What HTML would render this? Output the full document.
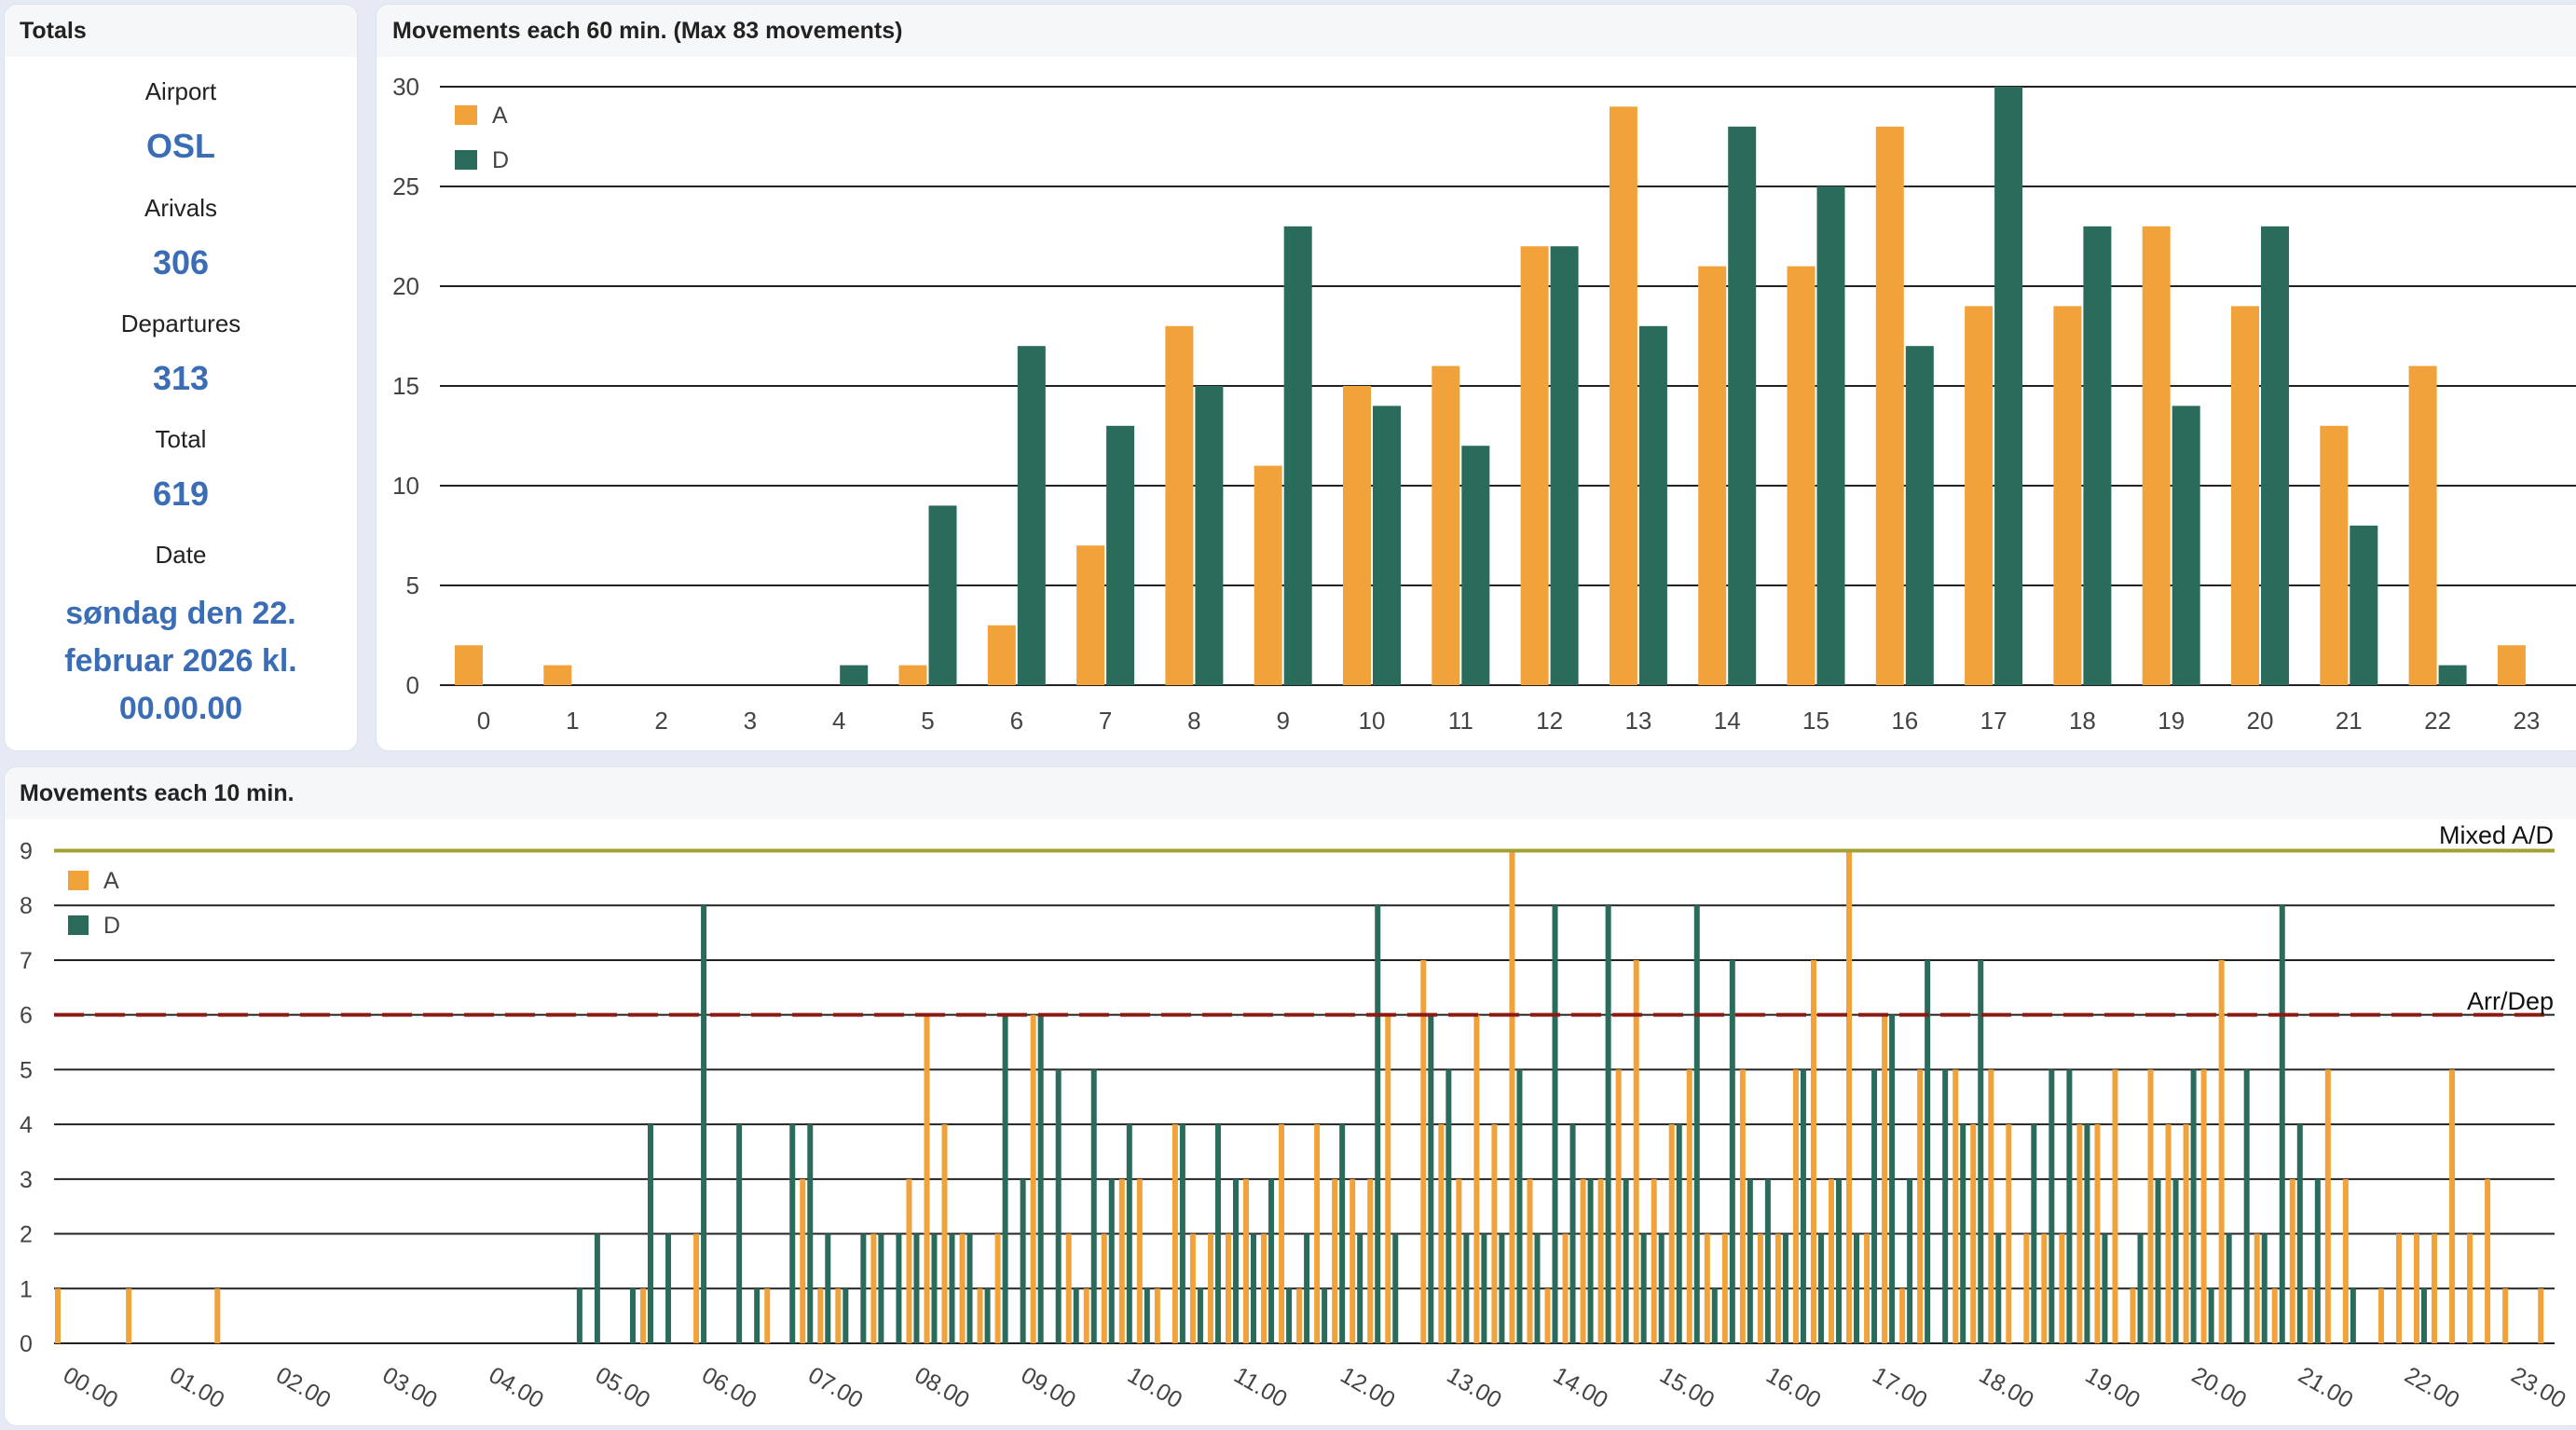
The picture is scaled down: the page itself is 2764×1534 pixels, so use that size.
<!DOCTYPE html>
<html><head><meta charset="utf-8">
<style>
html,body{margin:0;padding:0;width:2764px;height:1534px;background:#e6eaf4;overflow:hidden;font-family:"Liberation Sans",Arial,sans-serif;}
.panel{position:absolute;background:#fff;border-radius:14px;overflow:hidden;border:1px solid #dde2ea;}
.hdr{position:absolute;left:0;right:0;top:0;height:56px;background:#f6f7f8;}
.hdr span{position:absolute;left:16px;top:14px;font-weight:bold;font-size:25px;color:#222;}
.t{position:absolute;left:0;width:378px;text-align:center;}
.lbl{font-size:26px;color:#222;}
.val{font-size:36px;font-weight:bold;color:#3a6db5;}
svg{position:absolute;left:0;top:0;}
</style></head>
<body>
<div class="panel" style="left:4px;top:4px;width:378px;height:800px;">
  <div class="hdr"><span>Totals</span></div>
  <div class="t lbl" style="top:78px">Airport</div>
  <div class="t val" style="top:131px">OSL</div>
  <div class="t lbl" style="top:203px">Arivals</div>
  <div class="t val" style="top:256px">306</div>
  <div class="t lbl" style="top:327px">Departures</div>
  <div class="t val" style="top:380px">313</div>
  <div class="t lbl" style="top:451px">Total</div>
  <div class="t val" style="top:504px">619</div>
  <div class="t lbl" style="top:575px">Date</div>
  <div class="t val" style="top:628px;font-size:34px;line-height:51px">søndag den 22.<br>februar 2026 kl.<br>00.00.00</div>
</div>
<div class="panel" style="left:403px;top:4px;width:2370px;height:800px;">
  <div class="hdr"><span style="left:17px">Movements each 60 min. (Max 83 movements)</span></div>
</div>
<div class="panel" style="left:4px;top:822px;width:2770px;height:706px;">
  <div class="hdr"><span style="left:16px;top:14px">Movements each 10 min.</span></div>
</div>
<svg id="chart" width="2764" height="1534"></svg>
<script>
// hourly chart data
const hours = ["0","1","2","3","4","5","6","7","8","9","10","11","12","13","14","15","16","17","18","19","20","21","22","23"];
const hourA = [2,1,0,0,0,1,3,7,18,11,15,16,22,29,21,21,28,19,19,23,19,13,16,2];
const hourD = [0,0,0,0,1,9,17,13,15,23,14,12,22,18,28,25,17,30,23,14,23,8,1,0];
const hourTicks = [0,5,10,15,20,25,30];
// 10-min chart data (slot index -> value)
const slotA = [1,0,0,0,1,0,0,0,0,1,0,0,0,0,0,0,0,0,0,0,0,0,0,0,0,0,0,0,0,0,0,0,0,1,0,0,2,0,0,0,1,0,3,1,1,0,2,0,3,6,4,2,1,2,0,6,0,2,1,2,3,3,1,4,2,2,2,3,2,4,1,4,3,3,3,6,0,7,4,3,6,4,9,3,1,2,3,3,5,7,3,4,5,2,2,5,2,2,5,7,3,9,2,6,1,5,0,5,4,5,4,2,2,2,4,4,5,1,5,4,4,5,7,0,2,1,3,1,5,3,0,1,2,2,2,5,2,3,1,0,1];
const slotD = [0,0,0,0,0,0,0,0,0,0,0,0,0,0,0,0,0,0,0,0,0,0,0,0,0,0,0,0,0,1,2,0,1,4,2,0,8,0,4,1,0,4,4,2,1,2,2,2,2,2,2,2,1,6,3,6,5,1,5,3,4,1,0,4,1,4,3,2,3,1,2,1,4,2,8,2,0,6,5,2,2,2,5,2,8,4,3,8,3,2,2,4,8,1,7,3,3,2,5,2,3,2,5,6,3,7,5,4,7,2,0,4,5,5,4,2,0,2,3,3,5,1,2,5,2,8,4,3,0,1,0,0,0,1,0,0,0,0,0,0,0];
const slotTicks = [0,1,2,3,4,5,6,7,8,9];
const hourLabels = ["00.00","01.00","02.00","03.00","04.00","05.00","06.00","07.00","08.00","09.00","10.00","11.00","12.00","13.00","14.00","15.00","16.00","17.00","18.00","19.00","20.00","21.00","22.00","23.00"];
const limitArrDep = 6;
const limitMixed = 9;

const NS="http://www.w3.org/2000/svg";
const svg=document.getElementById('chart');
function mk(tag,attrs,parent){const e=document.createElementNS(NS,tag);for(const k in attrs)e.setAttribute(k,attrs[k]);(parent||svg).appendChild(e);return e;}
const ORA="#f2a23a", GRN="#2a6b5c";

// ---- hourly chart axes
const hx=i=>519+i*95.3;
const hy=v=>735-v*(735-93)/30;
const g1=mk('g',{});


hourTicks.forEach(t=>{
  const l=mk('line',{x1:472,x2:2764,y1:hy(t),y2:hy(t),stroke:"#222","stroke-width":2},g1);
  
  
  const tx=mk('text',{x:450,y:hy(t)+9,"text-anchor":"end","font-size":26,fill:"#444"},g1);
  tx.textContent=t;
  
  
});
hours.forEach((h,i)=>{
  if(hourA[i]>0){const r=mk('rect',{x:hx(i)-31,y:hy(hourA[i]),width:30,height:hy(0)-hy(hourA[i]),fill:ORA},g1);
    
    }
  if(hourD[i]>0){const r=mk('rect',{x:hx(i)+1,y:hy(hourD[i]),width:30,height:hy(0)-hy(hourD[i]),fill:GRN},g1);
    
    }
  const tx=mk('text',{x:hx(i),y:782,"text-anchor":"middle","font-size":26,fill:"#444"},g1);
  tx.textContent=h;
  
  
});
[["A",ORA,113],["D",GRN,161]].forEach(([n,c,y])=>{
  const r=mk('rect',{x:488,y:y,width:24,height:21,fill:c},g1);
  
  
  const t=mk('text',{x:528,y:y+19,"font-size":25,fill:"#444"},g1);
  t.textContent=n;
  
  
});

// ---- 10-min chart axes
const sx=i=>62+i*19.03;
const sy=v=>1441-v*(1441-912.5)/9;
const g2=mk('g',{});


slotTicks.forEach(t=>{
  if(t!==limitMixed){const l=mk('line',{x1:58,x2:2741,y1:sy(t),y2:sy(t),stroke:"#222","stroke-width":2},g2);
  
  }
  const tx=mk('text',{x:28,y:sy(t)+9,"text-anchor":"middle","font-size":25,fill:"#444"},g2);
  tx.textContent=t;
  
  
});
slotA.forEach((v,i)=>{
  if(v>0){const r=mk('rect',{x:sx(i)-3,y:sy(v),width:6,height:sy(0)-sy(v),fill:ORA},g2);
    
    }
});
slotD.forEach((v,i)=>{
  if(v>0){const r=mk('rect',{x:sx(i)+5,y:sy(v),width:6,height:sy(0)-sy(v),fill:GRN},g2);
    
    }
});
const ml=mk('line',{x1:58,x2:2741,y1:sy(limitMixed),y2:sy(limitMixed),stroke:"#a3a035","stroke-width":4},g2);


const dl=mk('line',{x1:58,x2:2741,y1:sy(limitArrDep),y2:sy(limitArrDep),stroke:"#8b1a12","stroke-width":4,"stroke-dasharray":"32,12"},g2);


const mt=mk('text',{x:2740,y:905,"text-anchor":"end","font-size":27,fill:"#111","clip-path":"url(#clipPlot)"},g2);
mt.textContent="Mixed A/D";


const cp=mk('clipPath',{id:"clipPlot"},svg);
mk('rect',{x:0,y:880,width:2764,height:700},cp);
const at=mk('text',{x:2740,y:1083,"text-anchor":"end","font-size":27,fill:"#111"},g2);
at.textContent="Arr/Dep";


hourLabels.forEach((h,i)=>{
  const x=66+i*114.2, y=1480;
  const t=mk('text',{x:x,y:y,"font-size":25,fill:"#444",transform:`rotate(30 ${x} ${y})`},g2);
  t.textContent=h;
  
  
});
[["A",ORA,934],["D",GRN,982]].forEach(([n,c,y])=>{
  const r=mk('rect',{x:73,y:y,width:22,height:21,fill:c},g2);
  
  
  const t=mk('text',{x:111,y:y+19,"font-size":25,fill:"#444"},g2);
  t.textContent=n;
  
  
});
</script>
</body></html>
